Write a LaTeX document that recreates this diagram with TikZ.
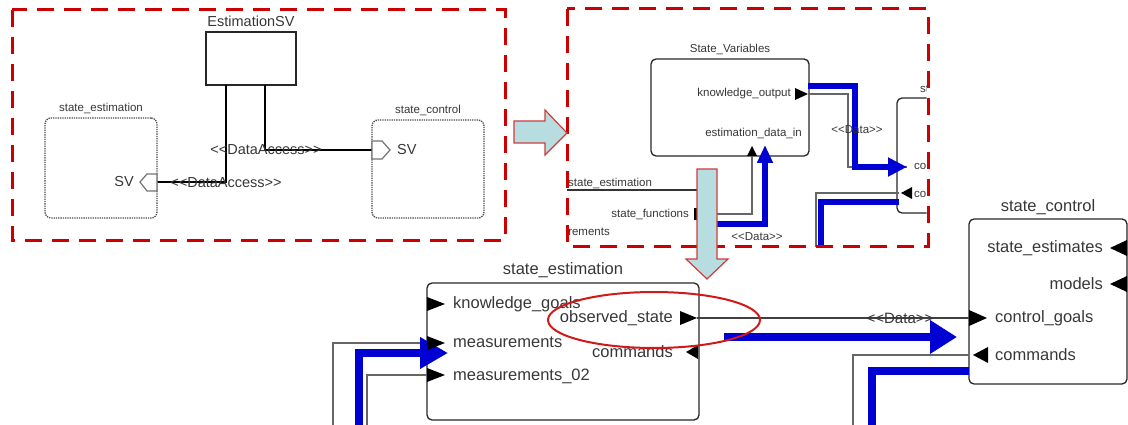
\documentclass[tikz,border=0pt]{standalone}
\usepackage{fontspec}
\setmainfont{Liberation Sans}
\usetikzlibrary{positioning,arrows.meta}

\definecolor{framered}{RGB}{204,0,0}
\definecolor{flowblue}{RGB}{0,0,210}
\definecolor{arrowcyan}{RGB}{183,221,224}
\definecolor{arrowred}{RGB}{205,60,60}
\definecolor{txtgray}{RGB}{55,55,55}

\begin{document}
\begin{tikzpicture}[x=1pt, y=-1pt,
  frame/.style={draw=framered, line width=3pt, dash pattern=on 17pt off 10pt},
  blockbox/.style={draw=black!85, line width=1.3pt, rounded corners=5pt, inner sep=0, outer sep=0, anchor=north west},
  dotbox/.style={draw=black!70, line width=1.3pt, densely dotted, rounded corners=6pt, inner sep=0, outer sep=0, anchor=north west},
  lbl/.style={text=txtgray, inner sep=0, font=\fontsize{16.5}{18}\selectfont},
  midlbl/.style={text=txtgray, inner sep=0, font=\fontsize{14.5}{16}\selectfont},
  smalllbl/.style={text=txtgray, inner sep=0, font=\fontsize{11.5}{13}\selectfont},
  wire/.style={draw=black!60, line width=1.3pt},
  flow/.style={draw=flowblue, line width=7pt, line join=miter},
  shaft/.style={draw=black, line width=2.3pt},
  bigarrow/.style={fill=arrowcyan, draw=arrowred, line width=1.2pt, line join=miter},
  svport/.style={draw=black!55, fill=white, line width=1.2pt}
]
\useasboundingbox (0,0) rectangle (1128,425);

% left frame: data access to SV
\node[blockbox, rounded corners=0, line width=2pt, minimum width=90, minimum height=53] (esv) at (206,32) {};
\node[midlbl, above=5pt of esv] {EstimationSV};
\node[dotbox, minimum width=112, minimum height=100] (lse) at (45,118) {};
\node[smalllbl, above=4pt of lse] {state\_estimation};
\node[dotbox, minimum width=112, minimum height=98] (lsc) at (372,120) {};
\node[smalllbl, above=4pt of lsc] {state\_control};
\coordinate (esv-a) at (226,85);
\coordinate (esv-b) at (265,85);
\coordinate (sv-est) at (157,182);
\coordinate (sv-ctl) at (372,150);
\draw[shaft] (esv-a) |- (sv-est);
\draw[shaft] (esv-b) |- (sv-ctl);
\draw[svport] (157,174) -- (147,174) -- (140,182) -- (147,191) -- (157,191) -- cycle;
\draw[svport] (372,141) -- (382,141) -- (390,150) -- (382,159) -- (372,159) -- cycle;
\node[midlbl, anchor=east] (sv1) at (134,182) {SV};
\node[midlbl, anchor=west] (sv2) at (397,150) {SV};
\node[midlbl] (da1) at (226,183) {<{}<DataAccess>{}>};
\node[midlbl] (da2) at (266,150) {<{}<DataAccess>{}>};
\draw[frame] (12,10) rectangle (505,240);

% right frame: State_Variables
\begin{scope}
  \clip (567,9) rectangle (926.5,246);
  \node[blockbox, minimum width=158, minimum height=97] (svar) at (651,59) {};
  \node[smalllbl, above=4pt of svar] {State\_Variables};
  \node[blockbox, minimum width=80, minimum height=115] (ctl) at (897,98) {};
  \node[smalllbl, anchor=west] at (920,89) {state\_control};
  \node[smalllbl, anchor=west] at (914,167) {control\_goals};
  \node[smalllbl, anchor=west] at (914,193) {commands};
  \node[smalllbl, anchor=east] at (791,94) {knowledge\_output};
  \node[smalllbl, anchor=east] at (802,133) {estimation\_data\_in};
  \node[smalllbl, anchor=west] at (568,183) {state\_estimation};
  \node[smalllbl, anchor=east] at (689,214) {state\_functions};
  \node[smalllbl, anchor=east] at (610,232) {measurements};
  \coordinate (ko) at (808,94);
  \coordinate (ko-flow) at (808,86);
  \coordinate (edi) at (752,156);
  \coordinate (edi-flow) at (765,145);
  \coordinate (sf) at (698,214);
  \coordinate (sf-flow) at (698,224);
  \coordinate (ctl-cg) at (907,167);
  \coordinate (ctl-cm) at (899,193);
  \coordinate (ctl-flow) at (899,202);
  \coordinate (se-in) at (567,190);
  \coordinate (se-out) at (700,190);
  \draw[wire, draw=black!80] (se-in) -- (se-out);
  \draw[wire] (ko) -- (848,94) |- (ctl-cg);
  \draw[flow, line width=6pt, -{Triangle[length=19pt,width=18pt]}] (ko-flow) -| (855,167) -- (ctl-cg);
  \draw[wire] (sf) -| (edi);
  \draw[flow, line width=6pt, -{Triangle[length=18pt,width=15pt]}] (sf-flow) -| (edi-flow);
  \draw[wire] (ctl-cm) -| (816,250);
  \draw[flow, line width=6pt] (ctl-flow) -| (821,250);
  \fill (795,88) -- (808,94) -- (795,100) -- cycle;
  \fill (747,156) -- (752,146) -- (757,156) -- cycle;
  \fill (912,187) -- (901,193) -- (912,199) -- cycle;
  \fill (694,208) rectangle (699,220);
  \node[smalllbl] at (857,130) {<{}<Data>{}>};
  \node[smalllbl] at (757,237) {<{}<Data>{}>};
\end{scope}
\draw[frame] (567,9) rectangle (928,246);

% transformation arrows
\draw[bigarrow] (514,121) -- (545,121) -- (545,110) -- (567,133) -- (545,155) -- (545,143) -- (514,143) -- cycle;
\draw[bigarrow] (697,169) -- (717,169) -- (717,259) -- (728,259) -- (707,279) -- (686,259) -- (697,259) -- cycle;

% lower blocks
\node[blockbox, minimum width=272, minimum height=137] (est) at (427,283) {};
\node[lbl, above=5pt of est] {state\_estimation};
\node[blockbox, minimum width=158, minimum height=165] (sc) at (969,219) {};
\node[lbl, above=4pt of sc] {state\_control};
\coordinate (est-me) at (427,343);
\coordinate (est-m2) at (427,375);
\coordinate (est-os) at (697,318);
\coordinate (sc-cg) at (969,318);
\coordinate (sc-cm) at (969,355);
\coordinate (sc-flow) at (969,371);
\draw[wire, draw=black!75] (est-os) -- (sc-cg);
\draw[flow, line width=8pt, -{Triangle[length=27pt,width=32pt]}] (724,337) -- (957,337);
\draw[wire] (333,430) |- (est-me);
\draw[wire] (367,430) |- (est-m2);
\draw[flow, line width=8pt, -{Triangle[length=28pt,width=30pt]}] (359,430) |- (448,353);
\draw[wire] (sc-cm) -| (853,430);
\draw[flow, line width=8pt] (sc-flow) -| (872,430);

% ports
\foreach \y in {304,343,375}
  \fill (427,\y-7) -- (445,\y) -- (427,\y+7) -- cycle;
\fill (680,311) -- (697,318) -- (680,325) -- cycle;
\fill (698,345) -- (686,352) -- (698,359) -- cycle;
\foreach \y in {248,284}
  \fill (1127,\y-8) -- (1110,\y) -- (1127,\y+8) -- cycle;
\fill (969,310) -- (987,318) -- (969,326) -- cycle;
\fill (988,347) -- (973,355) -- (988,363) -- cycle;

\node[lbl, anchor=west] at (453,304) {knowledge\_goals};
\node[lbl, anchor=west] at (453,342) {measurements};
\node[lbl, anchor=west] at (453,376) {measurements\_02};
\node[lbl, anchor=east] at (673,318) {observed\_state};
\node[lbl, anchor=east] at (673,352) {commands};
\node[lbl, anchor=east] at (1103,248) {state\_estimates};
\node[lbl, anchor=east] at (1103,284) {models};
\node[lbl, anchor=west] at (995,318) {control\_goals};
\node[lbl, anchor=west] at (995,355) {commands};
\node[lbl, font=\fontsize{15}{16}\selectfont] at (900,318) {<{}<Data>{}>};

\draw[draw=framered!90, line width=2pt] (654,320) ellipse [x radius=106, y radius=28];
\end{tikzpicture}
\end{document}
